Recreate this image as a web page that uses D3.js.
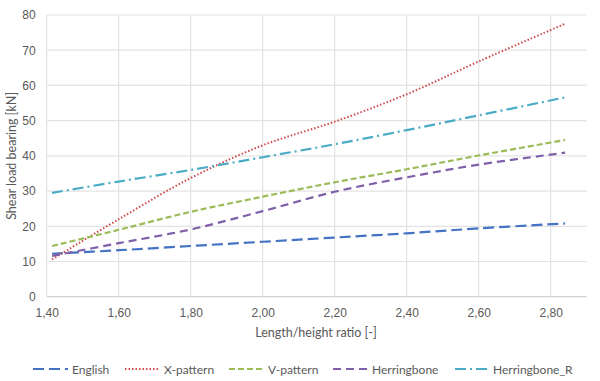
<!DOCTYPE html>
<html><head><meta charset="utf-8">
<script src="https://cdn.jsdelivr.net/npm/d3@7"></script>
<style>
body{margin:0;background:#fff;}
svg{display:block;font-family:Lato,"Open Sans",sans-serif;}
</style></head>
<body>
<svg id="c" width="600" height="381"></svg>
<script>
const xValues = [1.415, 1.6, 1.8, 2.0, 2.2, 2.4, 2.6, 2.84];
const english = [12.2, 13.2, 14.4, 15.6, 16.8, 18.0, 19.4, 20.8];
const xPattern = [10.6, 22.0, 33.7, 43.0, 49.7, 57.5, 66.8, 77.5];
const vPattern = [14.4, 19.0, 24.1, 28.4, 32.5, 36.2, 40.1, 44.5];
const herringbone = [11.6, 15.2, 19.1, 24.3, 29.8, 33.9, 37.5, 40.9];
const herringboneR = [29.5, 32.7, 36.0, 39.6, 43.3, 47.3, 51.5, 56.6];
const seriesNames = ["English", "X-pattern", "V-pattern", "Herringbone", "Herringbone_R"];
const xTicks = [1.4, 1.6, 1.8, 2.0, 2.2, 2.4, 2.6, 2.8];
const yTicks = [0, 10, 20, 30, 40, 50, 60, 70, 80];

const seriesData = [english, xPattern, vPattern, herringbone, herringboneR];
const colors = ["#4472C4", "#D0494B", "#9BBB59", "#7F5FA8", "#4BACC6"];
const dashes = ["11,5", "1.5,2", "6,3", "8,5", "11,4,2,4"];

const svg = d3.select("#c");
const x = d3.scaleLinear().domain([1.4, 2.9]).range([46.7, 586.7]);
const y = d3.scaleLinear().domain([0, 80]).range([296.7, 15]);

const grid = svg.append("g");
grid.selectAll("line.h").data(yTicks).join("line")
  .attr("x1", x(1.4)).attr("x2", x(2.9))
  .attr("y1", d => y(d)).attr("y2", d => y(d))
  .attr("stroke", d => d === 0 ? "#d0d0d0" : "#e3e3e3").attr("stroke-width", 1.2);
grid.selectAll("line.v").data(xTicks).join("line")
  .attr("y1", y(0)).attr("y2", y(80))
  .attr("x1", d => x(d)).attr("x2", d => x(d))
  .attr("stroke", "#e3e3e3").attr("stroke-width", 1.2);

const fmt = d => d.toFixed(2).replace(".", ",");
const xAxis = d3.axisBottom(x).tickValues(xTicks).tickFormat(fmt).tickSize(0).tickPadding(12);
const gx = svg.append("g").attr("transform", `translate(0,${y(0)})`).call(xAxis);
gx.select(".domain").remove();
gx.selectAll("text").attr("fill", "#595959").style("font-size", "12px");

const yAxis = d3.axisLeft(y).tickValues(yTicks).tickSize(0).tickPadding(11);
const gy = svg.append("g").attr("transform", `translate(${x(1.4)},0)`).call(yAxis);
gy.select(".domain").remove();
gy.selectAll("text").attr("fill", "#595959").style("font-size", "12px");

svg.append("text").attr("x", 316).attr("y", 337).attr("text-anchor", "middle")
  .attr("fill", "#595959").style("font-size", "12.5px").text("Length/height ratio [-]");
svg.append("text").attr("transform", `translate(16,${(y(0)+y(80))/2}) rotate(-90)`)
  .attr("text-anchor", "middle").attr("fill", "#595959").style("font-size", "12.5px")
  .text("Shear load bearing [kN]");

const line = d3.line().x((d, i) => x(xValues[i])).y(d => y(d)).curve(d3.curveCatmullRom.alpha(0.5));
svg.append("g").selectAll("path").data(seriesData).join("path")
  .attr("d", d => line(d)).attr("fill", "none")
  .attr("stroke", (d, i) => colors[i]).attr("stroke-width", (d, i) => i === 1 ? 2 : 2.2)
  .attr("stroke-dasharray", (d, i) => dashes[i]);

const legX = [33, 125, 229, 333, 455];
const lg = svg.append("g").selectAll("g").data(seriesNames).join("g")
  .attr("transform", (d, i) => `translate(${legX[i]},369)`);
lg.append("line").attr("x1", 0).attr("x2", 35).attr("y1", 0).attr("y2", 0)
  .attr("stroke", (d, i) => colors[i]).attr("stroke-width", (d, i) => i === 1 ? 2 : 2.2)
  .attr("stroke-dasharray", (d, i) => dashes[i]);
lg.append("text").attr("x", (d, i) => i === 4 ? 38 : 39).attr("y", 4.5)
  .attr("fill", "#595959").style("font-size", "12px").text(d => d);
</script>
</body></html>
